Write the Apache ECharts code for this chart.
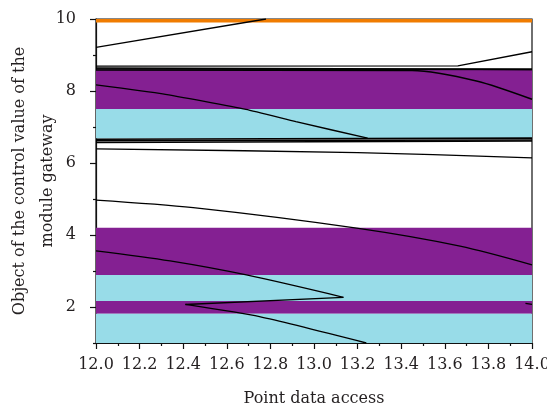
<!DOCTYPE html>
<html><head><meta charset="utf-8">
<script src="https://cdn.jsdelivr.net/npm/echarts@6/dist/echarts.min.js"></script>
<style>html,body{margin:0;padding:0;background:#fff}#c{width:547px;height:410px}</style>
</head><body><div id="c"></div>
<script>
// x tick labels
const xTicks = ['12.0','12.2','12.4','12.6','12.8','13.0','13.2','13.4','13.6','13.8','14.0'];
const yMajor = [2, 4, 6, 8, 10];
const yMinor = [1, 3, 5, 7, 9];

// colored bands (y ranges)
const bandLow  = [9.9, 7.5, 6.68, 2.89, 2.17, 1.81, 1.0];
const bandHigh = [10.0, 8.6, 7.5, 4.2, 2.89, 2.17, 1.81];
const bandKind = ['orange','purple','cyan','purple','cyan','purple','cyan'];

// black curves: [x, y] points
const lineA = [[12.0, 9.21], [12.78, 10.0]];
const lineB = [[12.0, 8.69], [13.66, 8.70], [14.0, 9.09]];
const lineC = [[12.0, 8.58], [13.45, 8.57], [13.75, 8.27], [14.0, 7.77]];
const lineD = [[12.0, 8.64], [13.5, 8.61], [14.0, 8.60]];
const lineE = [[12.0, 8.61], [14.0, 8.60]];
const lineF = [[12.0, 8.17], [12.306, 7.92], [12.688, 7.49], [12.917, 7.15], [13.246, 6.69]];
const lineG = [[12.0, 6.66], [14.0, 6.69]];
const lineH = [[12.0, 6.62], [14.0, 6.64]];
const lineI = [[12.0, 6.57], [14.0, 6.61]];
const lineJ = [[12.0, 6.39], [13.2, 6.29], [14.0, 6.14]];
const lineK = [[12.0, 4.97], [12.446, 4.76], [13.196, 4.19], [13.67, 3.69], [14.0, 3.17]];
const lineL1 = [[12.0, 3.56], [12.34, 3.28], [12.69, 2.89], [13.135, 2.27]];
const lineL2 = [[13.135, 2.27], [12.41, 2.07]];
const lineL3 = [[12.41, 2.07], [12.75, 1.73], [13.24, 1.0]];
const lineM = [[13.97, 2.10], [14.0, 2.07]];

const colors = {orange: '#F07C00', purple: '#842092', cyan: '#98DCE8'};
const FONT = 'DejaVu Serif';
const TXT = '#231f20';

const chart = echarts.init(document.getElementById('c'));
const curves = [
  [lineA, 0, 1.3], [lineB, 0, 1.3], [lineC, 0.25, 1.4], [lineD, 0, 1.6], [lineE, 0, 1.6],
  [lineF, 0.15, 1.4], [lineG, 0, 1.6], [lineH, 0, 1.6], [lineI, 0, 1.6], [lineJ, 0.3, 1.3],
  [lineK, 0.3, 1.3], [lineL1, 0.3, 1.3], [lineL2, 0, 1.3], [lineL3, 0.2, 1.3], [lineM, 0, 1.3]
];

const series = [{
  type: 'line', data: [], silent: true,
  markArea: {
    silent: true,
    data: bandLow.map((lo, i) => [
      {yAxis: lo, itemStyle: {color: colors[bandKind[i]], opacity: 1}},
      {yAxis: bandHigh[i]}
    ])
  }
}];
curves.forEach(([d, sm, w]) => series.push({
  type: 'line', data: d, symbol: 'none', smooth: sm, clip: true, z: 3,
  lineStyle: {color: '#000', width: w}
}));

chart.setOption({
  animation: false,
  grid: {left: 96, right: 15, top: 19, bottom: 67, show: true, borderColor: '#111', borderWidth: 1.2,
    backgroundColor: 'transparent', containLabel: false, outerBoundsMode: 'none'},
  xAxis: {
    type: 'value', min: 12, max: 14, interval: 0.2,
    name: 'Point data access', nameLocation: 'middle', nameGap: 48, nameMoveOverlap: false,
    nameTextStyle: {fontFamily: FONT, fontSize: 16, color: TXT},
    axisLine: {show: true, lineStyle: {color: '#111', width: 1.2}},
    axisTick: {show: true, length: 6, inside: false, lineStyle: {color: '#111', width: 1.2}},
    minorTick: {show: true, splitNumber: 2, length: 3, lineStyle: {color: '#111', width: 1.2}},
    splitLine: {show: false},
    axisLabel: {fontFamily: FONT, fontSize: 16, color: TXT, margin: 14,
      formatter: v => xTicks[Math.round((v - 12) / 0.2)] || ''}
  },
  yAxis: [{
    type: 'value', min: 1, max: 10,
    name: 'Object of the control value of the\nmodule gateway', nameLocation: 'middle', nameGap: 34,
    nameMoveOverlap: false,
    nameTextStyle: {fontFamily: FONT, fontSize: 16, color: TXT, lineHeight: 28},
    axisLine: {show: true, lineStyle: {color: '#111', width: 1.2}},
    axisTick: {show: true, length: 6, customValues: yMajor, lineStyle: {color: '#111', width: 1.2}},
    splitLine: {show: false},
    axisLabel: {fontFamily: FONT, fontSize: 16, color: TXT, margin: 20, customValues: yMajor}
  }, {
    type: 'value', min: 1, max: 10, position: 'left',
    axisLine: {show: false},
    axisTick: {show: true, length: 3, customValues: yMinor, lineStyle: {color: '#111', width: 1.2}},
    axisLabel: {show: false},
    splitLine: {show: false}
  }],
  series: series
});
</script></body></html>
